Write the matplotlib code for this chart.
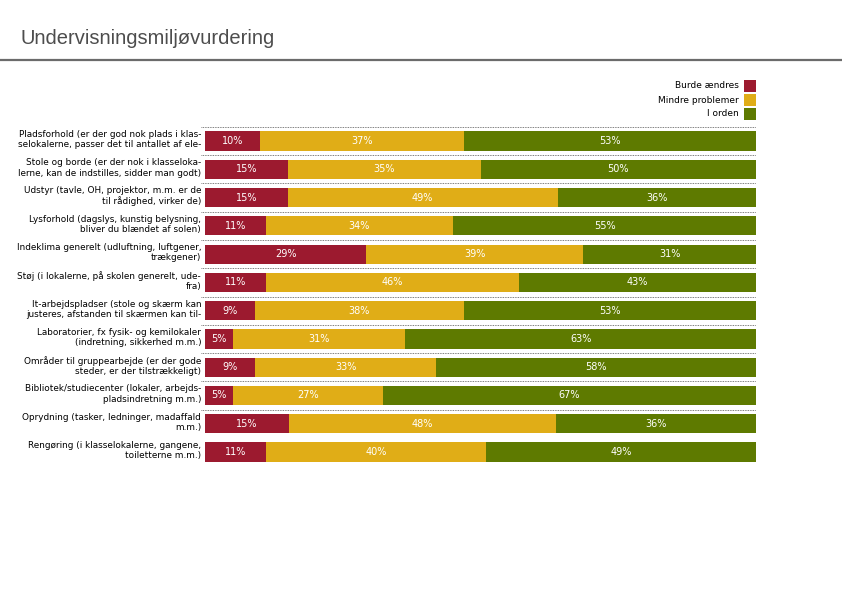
import matplotlib
matplotlib.use("Agg")
from matplotlib import pyplot as plt
from matplotlib.lines import Line2D
from matplotlib.patches import Rectangle

# spørgsmål (to linjer hver)
spoergsmaal = [
    "Pladsforhold (er der god nok plads i klas-\nselokalerne, passer det til antallet af ele-",
    "Stole og borde (er der nok i klasseloka-\nlerne, kan de indstilles, sidder man godt)",
    "Udstyr (tavle, OH, projektor, m.m. er de\ntil rådighed, virker de)",
    "Lysforhold (dagslys, kunstig belysning,\nbliver du blændet af solen)",
    "Indeklima generelt (udluftning, luftgener,\ntrækgener)",
    "Støj (i lokalerne, på skolen generelt, ude-\nfra)",
    "It-arbejdspladser (stole og skærm kan\njusteres, afstanden til skærmen kan til-",
    "Laboratorier, fx fysik- og kemilokaler\n(indretning, sikkerhed m.m.)",
    "Områder til gruppearbejde (er der gode\nsteder, er der tilstrækkeligt)",
    "Bibliotek/studiecenter (lokaler, arbejds-\npladsindretning m.m.)",
    "Oprydning (tasker, ledninger, madaffald\nm.m.)",
    "Rengøring (i klasselokalerne, gangene,\ntoiletterne m.m.)",
]
burde_aendres = [10, 15, 15, 11, 29, 11, 9, 5, 9, 5, 15, 11]
mindre_problemer = [37, 35, 49, 34, 39, 46, 38, 31, 33, 27, 48, 40]
i_orden = [53, 50, 36, 55, 31, 43, 53, 63, 58, 67, 36, 49]

serier = ["Burde ændres", "Mindre problemer", "I orden"]
farver = ["#9c1a2f", "#e0ad17", "#5e7a00"]

fig = plt.figure(figsize=(8.42, 5.95), dpi=100)
ax = fig.add_axes([0.2435, 0.2166, 0.6544, 0.5701])

data = [burde_aendres, mindre_problemer, i_orden]
for i in range(len(spoergsmaal)):
    total = burde_aendres[i] + mindre_problemer[i] + i_orden[i]
    venstre = 0
    for s in range(3):
        v = data[s][i]
        bredde = v / total
        ax.barh(i, bredde, left=venstre, height=0.68, color=farver[s], linewidth=0)
        ax.text(venstre + bredde / 2, i, "%d%%" % v, ha="center", va="center",
                color="white", fontsize=7, family="DejaVu Sans")
        venstre += bredde
    # stiplet linje over hver række
    if i < len(spoergsmaal) - 1:
        ax.plot([-0.008, 1.0], [i - 0.5, i - 0.5], color="#555555", lw=0.6,
                ls=(0, (1, 1)), clip_on=False)
    ax.text(-0.007, i - 0.05, spoergsmaal[i], ha="right", va="center",
            fontsize=6.4, family="DejaVu Sans", linespacing=1.2,
            transform=ax.get_yaxis_transform())

ax.set_xlim(0, 1)
ax.set_ylim(len(spoergsmaal) - 0.5, -0.5)
ax.axis("off")

# forklaring
for k in range(3):
    y = 1 - (86 + k * 14) / 595
    fig.patches.append(Rectangle((744 / 842, y - 6 / 595), 12 / 842, 12 / 595,
                                 transform=fig.transFigure, color=farver[k], lw=0))
    fig.text(739 / 842, y, serier[k], ha="right", va="center", fontsize=6.5,
             family="DejaVu Sans")

# titel
fig.text(20 / 842, 1 - 38 / 595, "Undervisningsmiljøvurdering", ha="left", va="center",
         fontsize=14.5, color="#4d4d4d", family="Liberation Sans")
fig.add_artist(Line2D([0, 1], [1 - 59.5 / 595, 1 - 59.5 / 595], color="#6b6b6b", lw=1.6))

fig.savefig("out.png", dpi=100, facecolor="white")
